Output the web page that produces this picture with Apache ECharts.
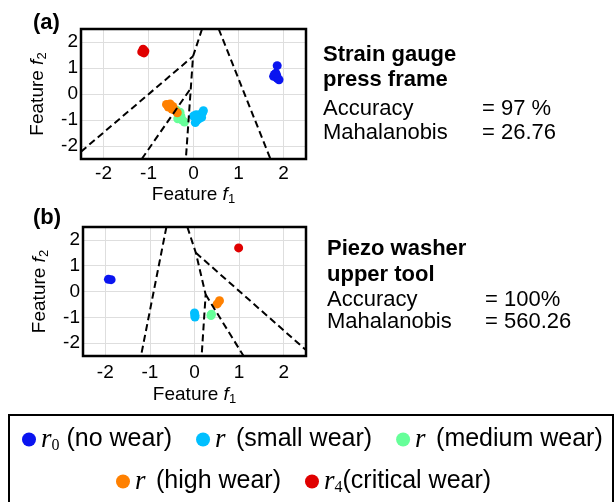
<!DOCTYPE html>
<html><head><meta charset="utf-8">
<script src="https://cdn.jsdelivr.net/npm/echarts@6/dist/echarts.min.js"></script>
<style>html,body{margin:0;padding:0;background:#fff}#c{width:614px;height:502px}</style>
</head><body><div id="c"></div>
<script>
// ---------- data ----------
const classNames = ['r0 (no wear)', 'r (small wear)', 'r (medium wear)', 'r (high wear)', 'r4(critical wear)'];
const classLabels = ['{q|r}{s|0}{t| (no wear)}', '{r|r}{t| (small wear)}', '{r|r}{t| (medium wear)}', '{r|r}{t| (high wear)}', '{q|r}{s|4}{t|(critical wear)}'];
const classColors = ['#0a14f0', '#00bfff', '#66ff99', '#ff8000', '#e00000'];
const gridTicks = [-2, -1, 0, 1, 2];

// panel (a): strain gauge press frame
const aNoWear = [[1.80,0.75],[1.85,0.70],[1.78,0.68],[1.86,0.60],[1.90,0.55],[1.83,0.80],[1.86,1.09]];
const aSmall = [[0.00,-0.85],[0.06,-0.80],[0.14,-0.80],[0.20,-0.72],[0.22,-0.64],[0.18,-0.90],[0.08,-1.00],[0.04,-1.10],[0.12,-0.95]];
const aMedium = [[-0.38,-0.62],[-0.30,-0.70],[-0.34,-0.78],[-0.28,-0.85],[-0.35,-0.95],[-0.25,-1.00],[-0.20,-1.08]];
const aHigh = [[-0.60,-0.40],[-0.52,-0.38],[-0.56,-0.50],[-0.46,-0.48],[-0.48,-0.58],[-0.42,-0.62],[-0.36,-0.72]];
const aCritical = [[-1.12,1.72],[-1.10,1.58],[-1.15,1.62],[-1.08,1.65]];
const aBoundaries = [
  [[-2.5,-2.22],[-0.01,1.45]],
  [[0.19,2.5],[-0.01,1.45],[-0.06,0.22],[-0.17,-2.5]],
  [[-1.15,-2.5],[-0.06,0.22]],
  [[0.56,2.5],[1.71,-2.5]]
];
const aInfo = ['Strain gauge', 'press frame', 'Accuracy', '= 97 %', 'Mahalanobis', '= 26.76'];

// panel (b): piezo washer upper tool
const bNoWear = [[-1.93,0.47],[-1.87,0.46]];
const bSmall = [[0.00,-0.83],[0.01,-0.92],[0.01,-0.99]];
const bMedium = [[0.38,-0.88],[0.37,-0.93]];
const bHigh = [[0.56,-0.36],[0.51,-0.48]];
const bCritical = [[0.99,1.69]];
const bBoundaries = [
  [[-0.63,2.5],[-1.2,-2.5]],
  [[-0.16,2.5],[0.03,1.5],[0.25,-0.12],[0.16,-2.5]],
  [[0.03,1.5],[2.5,-2.27]],
  [[0.25,-0.12],[1.1,-2.5]]
];
const bInfo = ['Piezo washer', 'upper tool', 'Accuracy', '= 100%', 'Mahalanobis', '= 560.26'];

const axisMin = -2.5, axisMax = 2.5;

// ---------- chart ----------
const SANS = 'Liberation Sans, Arial, sans-serif';
const SERIF = 'Liberation Serif, DejaVu Serif, serif';
const chart = echarts.init(document.getElementById('c'), null, {renderer: 'canvas'});

const nameRich = {
  i: {fontStyle: 'italic', fontSize: 19, fontFamily: SANS, color: '#000', lineHeight: 22},
  s: {fontSize: 13, fontFamily: SANS, color: '#000', lineHeight: 11, verticalAlign: 'bottom'}
};
function xAxis(gi, gap, margin) {
  return {
    type: 'value', gridIndex: gi, min: axisMin, max: axisMax, splitNumber: 5,
    name: 'Feature {i|f}{s|1}', nameLocation: 'middle', nameGap: gap,
    nameTextStyle: {fontSize: 19, fontFamily: SANS, color: '#000', lineHeight: 22, rich: nameRich},
    axisLine: {show: false},
    axisTick: {show: true, inside: true, length: 3, lineStyle: {color: '#222'}},
    axisLabel: {fontSize: 19, fontFamily: SANS, color: '#000', margin: margin, showMinLabel: false, showMaxLabel: false},
    splitLine: {show: true, lineStyle: {color: '#dedede', width: 1}}
  };
}
function yAxis(gi, gap) {
  return {
    type: 'value', gridIndex: gi, min: axisMin, max: axisMax, splitNumber: 5,
    name: 'Feature {i|f}{s|2}', nameLocation: 'middle', nameGap: gap,
    nameTextStyle: {fontSize: 19, fontFamily: SANS, color: '#000', lineHeight: 22, rich: nameRich},
    axisLine: {show: false},
    axisTick: {show: true, inside: true, length: 3, lineStyle: {color: '#222'}},
    axisLabel: {fontSize: 19, fontFamily: SANS, color: '#000', margin: 3, showMinLabel: false, showMaxLabel: false},
    splitLine: {show: true, lineStyle: {color: '#dedede', width: 1}}
  };
}

const series = [];
function addPanel(gi, clusters, boundaries) {
  // light grid lines at the integer ticks, placed by the library's scales
  series.push({
    type: 'line', xAxisIndex: gi, yAxisIndex: gi, data: [], silent: true, z: 1,
    markLine: {
      silent: true, z: 1, symbol: ['none', 'none'], animation: false, label: {show: false},
      lineStyle: {color: '#dedede', width: 1, type: 'solid'},
      data: gridTicks.map(v => ({xAxis: v})).concat(gridTicks.map(v => ({yAxis: v})))
    }
  });
  clusters.forEach((d, k) => {
    series.push({
      type: 'scatter', name: classNames[k], xAxisIndex: gi, yAxisIndex: gi,
      data: d, symbol: 'circle', symbolSize: 9, silent: true, z: 10,
      itemStyle: {color: classColors[k], opacity: 1}
    });
  });
  boundaries.forEach(b => {
    series.push({
      type: 'line', xAxisIndex: gi, yAxisIndex: gi, data: b, symbol: 'none', silent: true, z: 12,
      lineStyle: {color: '#000', width: 2, type: [7, 4]}
    });
  });
}
addPanel(0, [aNoWear, aSmall, aMedium, aHigh, aCritical], aBoundaries);
addPanel(1, [bNoWear, bSmall, bMedium, bHigh, bCritical], bBoundaries);

const legendRich = {
  r: {fontFamily: SERIF, fontStyle: 'italic', fontSize: 27, color: '#000', lineHeight: 28, width: 14},
  q: {fontFamily: SERIF, fontStyle: 'italic', fontSize: 27, color: '#000', lineHeight: 28},
  s: {fontFamily: SERIF, fontSize: 16, color: '#000', lineHeight: 13, verticalAlign: 'bottom'},
  t: {fontFamily: SANS, fontSize: 25, color: '#000', lineHeight: 28}
};
function legend(data, left, top) {
  return {
    data: data, left: left, top: top, orient: 'horizontal', icon: 'circle',
    itemWidth: 14, itemHeight: 14, itemGap: 24, padding: 0,
    formatter: name => classLabels[classNames.indexOf(name)],
    textStyle: {fontFamily: SANS, fontSize: 25, color: '#000', rich: legendRich}
  };
}

function infoText(lines, x, xEq, baselines) {
  const ys = baselines.map(b => b - 7.7);
  const t = (s, xx, yy, bold) => ({type: 'text', style: {text: s, x: xx, y: yy, font: (bold ? 'bold ' : '') + '22px ' + SANS, fill: '#000', verticalAlign: 'middle'}});
  return [
    t(lines[0], x, ys[0], true), t(lines[1], x, ys[1], true),
    t(lines[2], x, ys[2]), t(lines[3], xEq, ys[2]),
    t(lines[4], x, ys[3]), t(lines[5], xEq, ys[3])
  ];
}

const graphic = [
  {type: 'text', style: {text: '(a)', x: 33, y: 23, font: 'bold 22px ' + SANS, fill: '#000', verticalAlign: 'middle'}},
  {type: 'text', style: {text: '(b)', x: 33, y: 218, font: 'bold 22px ' + SANS, fill: '#000', verticalAlign: 'middle'}},
  {type: 'rect', shape: {x: 9, y: 415, width: 604, height: 100}, style: {fill: 'none', stroke: '#000', lineWidth: 2}},
  ...infoText(aInfo, 323, 482, [63, 88, 117, 141]),
  ...infoText(bInfo, 327, 485, [257, 283, 308, 330])
];

const gridBoxes = [
  {left: 81, top: 29, width: 225, height: 130},
  {left: 83, top: 227, width: 223, height: 129}
];
// panel frames (drawn on top of the grid lines)
gridBoxes.forEach(g => graphic.push({type: 'rect', z: 100, silent: true,
  shape: {x: g.left, y: g.top, width: g.width, height: g.height},
  style: {fill: 'none', stroke: '#000', lineWidth: 2.5}}));

chart.setOption({
  animation: false,
  backgroundColor: '#fff',
  grid: gridBoxes.map(g => Object.assign({show: true, borderWidth: 0, borderColor: '#000', backgroundColor: 'transparent'}, g)),
  xAxis: [xAxis(0, 20, 5), xAxis(1, 28, 7)],
  yAxis: [yAxis(0, 32), yAxis(1, 32)],
  legend: [legend(classNames.slice(0, 3), 22, 426), legend(classNames.slice(3), 116, 468)],
  graphic: graphic,
  series: series
});
</script></body></html>
